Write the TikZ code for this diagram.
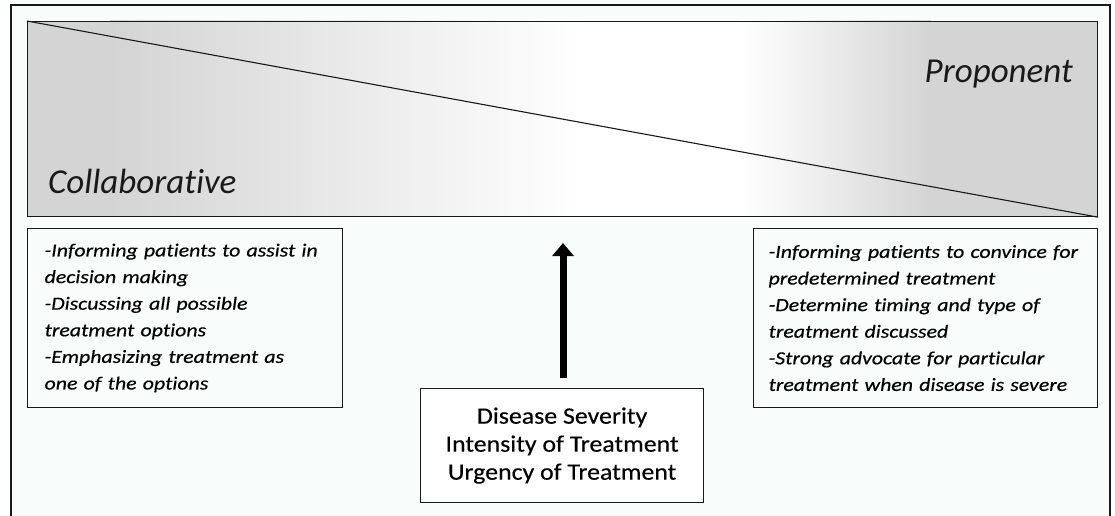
\documentclass[tikz,border=0pt]{standalone}
\usepackage{fontspec}
\setmainfont{Carlito}[Ligatures=NoCommon]
\newfontfamily\boxfont[FakeStretch=1.18,FakeBold=0.4,Ligatures=NoCommon]{Carlito}
\newfontfamily\botfont[FakeStretch=1.1,FakeBold=0.3,Ligatures=NoCommon]{Carlito}
\usetikzlibrary{arrows.meta}
\definecolor{bgc}{RGB}{248,252,250}
\definecolor{barG}{RGB}{212,212,212}
\definecolor{ink}{RGB}{25,25,25}
\tikzset{
  frameline/.style={draw=ink, line width=1.4pt},
  txtbox/.style={draw=ink, line width=1.2pt, fill=bgc, inner ysep=0pt, align=left,
     font={\boxfont\itshape\fontsize{18.5}{26.6}\selectfont}},
  bigit/.style={font={\itshape\fontsize{35}{40}\selectfont}, inner sep=0pt, text=ink},
  upbox/.style={draw=ink, line width=1.2pt, fill=white, align=center,
     font={\botfont\fontsize{23.5}{28}\selectfont}, inner sep=0pt},
  bigarrow/.style={draw=black, line width=7pt, -{Triangle[width=21pt,length=13pt]}}
}
\begin{document}
\begin{tikzpicture}[x=1pt,y=-1pt]
\useasboundingbox (0,0) rectangle (1115,516);
\fill[white] (0,0) rectangle (1115,516);
\fill[bgc] (11,5) rectangle (1110,516);
\draw[frameline] (11,516) -- (11,5) -- (1110,5) -- (1110,516);
% gradient of the bar
\fill[barG] (27,21) rectangle (111,216);
\shade[left color=barG, right color=white] (110,21) rectangle (581,216);
\fill[white] (580,21) rectangle (741,216);
\shade[left color=white, right color=barG] (740,21) rectangle (931,216);
\fill[barG] (930,21) rectangle (1097,216);
\node[draw=ink, line width=1.2pt, minimum width=1070pt, minimum height=195pt, inner sep=0pt, anchor=north west] (bar) at (27,21) {};
\draw[draw=ink, line width=1.1pt] (bar.north west) -- (bar.south east);
\node[bigit, anchor=base west] (collab) at (48,193) {Collaborative};
\node[bigit, anchor=base east] (prop) at (1073,83) {Proponent};
% side boxes
\node[txtbox, anchor=north west, minimum width=315pt, minimum height=179pt, inner xsep=17pt, text width=281pt] (lbox) at (27,228)
 {-Informing patients to assist in\\decision making\\-Discussing all possible\\treatment options\\-Emphasizing treatment as\\one of the options};
\node[txtbox, anchor=north west, minimum width=344pt, minimum height=179pt, inner xsep=15pt, text width=314pt] (rbox) at (753,228)
 {-Informing patients to convince for\\predetermined treatment\\-Determine timing and type of\\treatment discussed\\-Strong advocate for particular\\treatment when disease is severe};
% bottom box and arrow
\node[upbox, anchor=north west, minimum width=283pt, minimum height=114pt] (bot) at (420,388)
 {Disease Severity\\Intensity of Treatment\\Urgency of Treatment};
\coordinate (tip) at (563,243);
\draw[bigarrow, shorten <=10pt] (tip |- bot.north) -- (tip);
\end{tikzpicture}
\end{document}
